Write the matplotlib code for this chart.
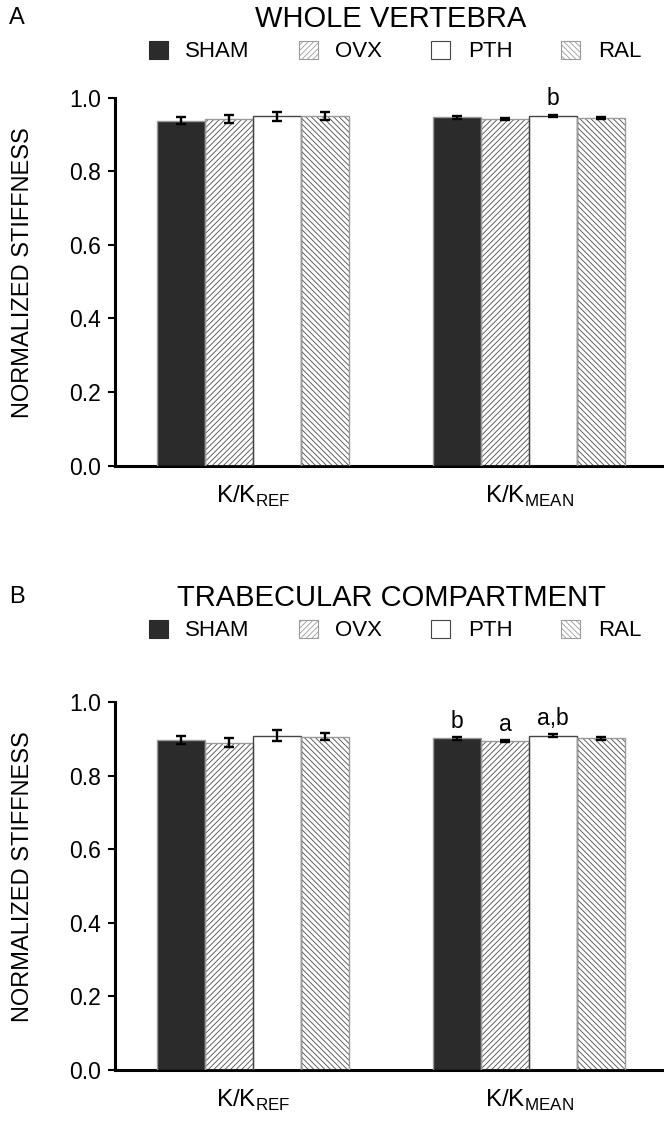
import numpy as np
import matplotlib
matplotlib.use('Agg')
from matplotlib import pyplot as plt
from matplotlib.patches import Patch

plt.rcParams['font.family'] = ['Liberation Sans', 'DejaVu Sans']
plt.rcParams['mathtext.fontset'] = 'custom'
plt.rcParams['mathtext.rm'] = 'Liberation Sans'
plt.rcParams['hatch.linewidth'] = 0.6

# data
groups = ['SHAM', 'OVX', 'PTH', 'RAL']
xlabels = [r'K/K$_{\mathrm{REF}}$', r'K/K$_{\mathrm{MEAN}}$']

whole_mean = [[0.937, 0.942, 0.949, 0.951],
              [0.946, 0.941, 0.950, 0.944]]
whole_err = [[0.009, 0.010, 0.012, 0.011],
             [0.003, 0.003, 0.003, 0.002]]
whole_marks = [['', '', '', ''], ['', '', 'b', '']]

trab_mean = [[0.897, 0.890, 0.908, 0.906],
             [0.901, 0.894, 0.909, 0.902]]
trab_err = [[0.011, 0.011, 0.015, 0.009],
            [0.003, 0.002, 0.004, 0.004]]
trab_marks = [['', '', '', ''], ['b', 'a', 'a,b', '']]

# styling per group
face = ['#2b2b2b', 'white', 'white', 'white']
hatches = [None, '//////', None, '\\\\\\\\\\\\']
edge = ['#9a9a9a', '#9a9a9a', '#444444', '#9a9a9a']

fig = plt.figure(figsize=(6.64, 11.24), dpi=100)

def panel(ax, means, errs, marks):
    means = np.array(means)
    errs = np.array(errs)
    x = np.arange(len(xlabels))
    w = 0.174
    for i in range(len(groups)):
        pos = x + (i - 1.5) * w
        ax.bar(pos, means[:, i], w, color=face[i], hatch=hatches[i],
               edgecolor='#4a4a4a', linewidth=0, zorder=2)
        ax.bar(pos, means[:, i], w, fill=False, edgecolor=edge[i],
               linewidth=1.0, zorder=3)
        ax.errorbar(pos, means[:, i], yerr=errs[:, i], fmt='none',
                    ecolor='black', elinewidth=1.7, capsize=3.5,
                    capthick=1.7, zorder=4)
        for j in range(len(x)):
            if marks[j][i]:
                ax.text(pos[j], means[j, i] + errs[j, i] + 0.012, marks[j][i],
                        ha='center', va='bottom', fontsize=16.5)
    ax.set_xlim(-0.5, 1.489)
    ax.set_ylim(0, 1.0)
    ax.set_yticks(np.arange(0, 1.01, 0.2))
    ax.set_yticklabels(['%.1f' % v for v in np.arange(0, 1.01, 0.2)])
    ax.set_xticks(x)
    ax.set_xticklabels(xlabels)
    ax.spines['top'].set_visible(False)
    ax.spines['right'].set_visible(False)
    ax.spines['left'].set_linewidth(2.2)
    ax.spines['bottom'].set_linewidth(2.2)
    ax.tick_params(axis='y', direction='out', length=5, width=1.5,
                   labelsize=16.5, pad=5)
    ax.tick_params(axis='x', length=0, labelsize=17.5, pad=13)

axA = fig.add_axes([0.1732, 0.5858, 0.8268, 0.3274])
panel(axA, whole_mean, whole_err, whole_marks)
axB = fig.add_axes([0.1732, 0.0480, 0.8268, 0.3274])
panel(axB, trab_mean, trab_err, trab_marks)

handles = []
for i in range(len(groups)):
    handles.append(Patch(facecolor=face[i], hatch=hatches[i],
                         edgecolor=edge[i] if i != 0 else face[i],
                         linewidth=0.8, label=groups[i]))

for ytop, letter, title in [(0.984, 'A', 'WHOLE VERTEBRA'),
                            (0.469, 'B', 'TRABECULAR COMPARTMENT')]:
    fig.text(0.025, ytop, letter, fontsize=17, ha='center', va='center')
    fig.text(0.589, ytop - 0.001, title, fontsize=21, ha='center', va='center')
    fig.legend(handles=handles, loc='center', bbox_to_anchor=(0.595, ytop - 0.030),
               ncol=4, frameon=False, fontsize=16, handlelength=0.85,
               handleheight=0.85, handletextpad=0.8, columnspacing=2.2,
               borderpad=0)

for ax in [axA, axB]:
    pos = ax.get_position()
    fig.text(0.035, (pos.y0 + pos.y1) / 2 + 0.008, 'NORMALIZED STIFFNESS',
             rotation=90, fontsize=17, ha='center', va='center')

fig.savefig('out.png', dpi=100)
